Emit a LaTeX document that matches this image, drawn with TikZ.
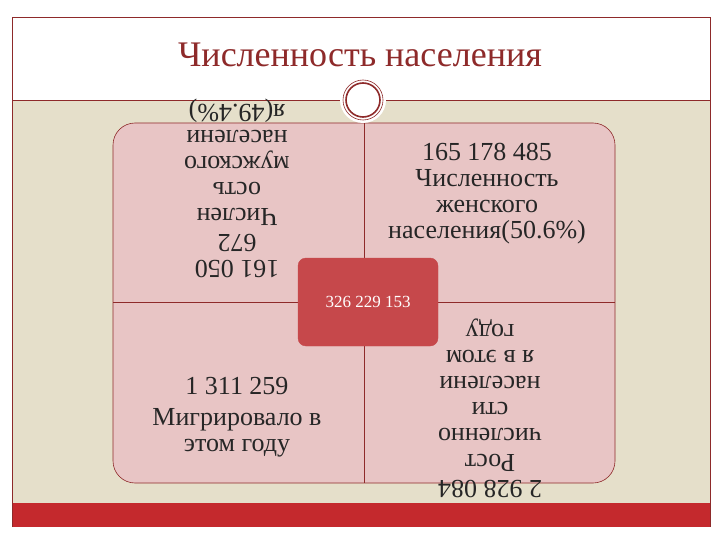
\documentclass[tikz,border=0pt]{standalone}
\usepackage{fontspec}
\setmainfont{Liberation Serif}
\definecolor{beige}{HTML}{E5DFCA}
\definecolor{pinkf}{HTML}{E8C5C5}
\definecolor{barred}{HTML}{C4292D}
\definecolor{dred}{HTML}{8E2A2A}
\definecolor{boxred}{HTML}{C6484B}
\tikzset{txt/.style={align=center,font=\fontsize{26}{26}\selectfont,text=black!85,inner sep=0pt}}
\begin{document}
\begin{tikzpicture}[x=1pt,y=-1pt]
\useasboundingbox (0,0) rectangle (720,540);
\fill[white] (0,0) rectangle (720,540);
\fill[beige] (12,100) rectangle (710,503);
\fill[barred] (12,503) rectangle (710,527);
\draw[dred,line width=0.6pt] (12,527) -- (12,17) -- (710,17) -- (710,527);
\draw[dred,line width=0.6pt] (12,100) -- (710,100);
\node[font=\fontsize{36}{40}\selectfont,text=dred] (title) at (360,55) {Численность населения};
\draw[dred,fill=pinkf,rounded corners=22pt,line width=0.6pt] (113,123) rectangle (615,483);
\draw[dred,line width=0.6pt] (364,123) -- (364,483);
\draw[dred,line width=0.6pt] (113,302) -- (615,302);
\node[circle,fill=white,minimum size=46pt] (orn) at (363,100) {};
\draw[dred,line width=1.6pt] (363,100) circle (17);
\draw[dred,line width=0.6pt] (363,100) circle (20);
\node[txt,rotate=180] (tl) at (237,188) {161 050\\672\\Числен\\ость\\мужского\\населени\\я(49.4\%)};
\node[txt] (tr) at (487,194) {165 178 485\\Численность\\женского\\населения(50.6\%)};
\node[txt] (bl1) at (237,386) {1 311 259};
\node[txt] (bl2) at (237,433) {Мигрировало в\\этом году};
\node[txt,rotate=180] (br) at (490,408) {2 928 084\\Рост\\численно\\сти\\населени\\я в этом\\году};
\draw[boxred,fill=boxred,rounded corners=8pt] (298,258) rectangle (438,346);
\node[font=\fontsize{17}{19}\selectfont,text=white] (c) at (368,302) {326 229 153};
\end{tikzpicture}
\end{document}
